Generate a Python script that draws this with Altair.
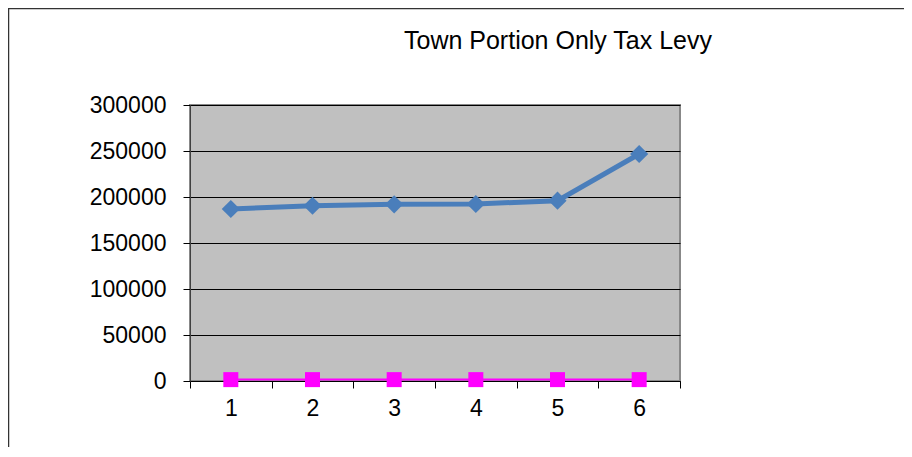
import altair as alt
import pandas as pd

categories = ["1", "2", "3", "4", "5", "6"]
levy = [187000, 190500, 192000, 192400, 196000, 246700]
other = [1500, 1500, 1500, 1500, 1500, 1500]
y_ticks = [0, 50000, 100000, 150000, 200000, 250000, 300000]
title_text = "Town Portion Only Tax Levy"

df_levy = pd.DataFrame({"x": categories, "v": levy})
df_other = pd.DataFrame({"x": categories, "v": other})

FONT = "Liberation Sans"

xenc = alt.X("x:O", sort=categories,
             scale=alt.Scale(type="band", paddingInner=0, paddingOuter=0),
             axis=alt.Axis(title=None, labelAngle=0, tickBand="extent", grid=False,
                           labelFontSize=23, labelColor="black", labelFont=FONT,
                           tickColor="black", domainColor="black", tickSize=7,
                           labelPadding=9, domainWidth=1))
yenc = alt.Y("v:Q", scale=alt.Scale(domain=[0, 300000], nice=False),
             axis=alt.Axis(title=None, values=y_ticks, format="d",
                           labelFontSize=23, labelColor="black", labelFont=FONT,
                           tickColor="black", domainColor="#404040", tickSize=7,
                           labelPadding=17, grid=True, gridColor="black", gridWidth=1))

border = alt.Chart(pd.DataFrame({"a": [0]})).mark_rect(
    fill="transparent", stroke="#333333", strokeWidth=1.5
).encode(x=alt.value(-181.5), x2=alt.value(900), y=alt.value(-96.5), y2=alt.value(600))

blue_line = alt.Chart(df_levy).mark_line(color="#4A7EBB", strokeWidth=5).encode(x=xenc, y=yenc)
blue_pts = alt.Chart(df_levy).mark_point(shape="diamond", filled=True, color="#4A7EBB",
                                         size=330, opacity=1).encode(x=xenc, y=yenc)
pink_line = alt.Chart(df_other).mark_line(color="#FF00FF", strokeWidth=2).encode(x=xenc, y=yenc)
pink_pts = alt.Chart(df_other).mark_point(shape="square", filled=True, color="#FF00FF",
                                          size=225, opacity=1).encode(x=xenc, y=yenc)

title = alt.Chart(pd.DataFrame({"a": [0]})).mark_text(
    font=FONT, fontSize=25, align="center", baseline="alphabetic", color="black"
).encode(x=alt.value(368), y=alt.value(-56), text=alt.value(title_text))

chart = alt.layer(border, pink_line, pink_pts, blue_line, blue_pts, title).properties(
    width=490, height=276,
    autosize=alt.AutoSizeParams(type="none"),
    padding={"left": 182, "top": 97, "right": 224, "bottom": 66},
    background="white",
).configure_view(
    fill="#C0C0C0", stroke="#888888", strokeWidth=2
)

chart.save("out.html", embed_options={"renderer": "svg", "actions": False})
